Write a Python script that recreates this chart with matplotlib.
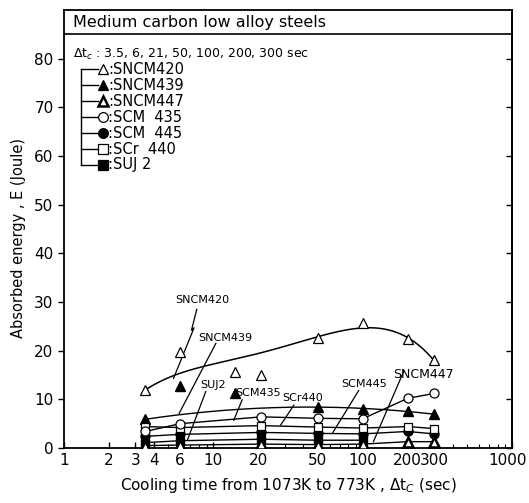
import numpy as np
import matplotlib.pyplot as plt
from matplotlib.ticker import NullFormatter, FixedLocator
from matplotlib.transforms import ScaledTranslation

# Cooling times (sec) used for most steels
cols = [3.5, 6, 21, 50, 100, 200, 300]

# Absorbed energy (Joule)
sncm420_x = [3.5, 6, 14, 21, 50, 100, 200, 300]
sncm420_y = [11.9, 19.8, 15.7, 15.1, 22.7, 25.6, 22.4, 18.1]
# where the drawn SNCM420 curve runs
sncm420_curve_x = [3.5, 8.6, 31, 50, 100, 200, 300]
sncm420_curve_y = [11.9, 16.8, 21.0, 22.7, 25.0, 22.4, 18.1]

sncm439_x = [3.5, 6, 14, 50, 100, 200, 300]
sncm439_y = [5.9, 12.8, 11.4, 8.4, 8.1, 7.6, 6.9]
sncm439_fit = [0, 3, 4, 5, 6]

sncm447_y = [0.5, 0.6, 0.8, 0.7, 0.8, 1.3, 1.3]
scm435_y = [3.4, 5.0, 6.4, 6.1, 6.0, 10.2, 11.2]
scm445_y = [2.4, 2.8, 3.2, 3.0, 2.9, 3.4, 2.9]
scr440_y = [4.4, 4.2, 4.6, 4.3, 4.1, 4.4, 4.0]
suj2_x = [3.5, 6, 21, 50, 100]
suj2_y = [1.1, 1.5, 1.8, 1.6, 1.6]

xtick_vals = [1, 2, 3, 4, 6, 10, 20, 50, 100, 200, 300, 1000]

fig = plt.figure(figsize=(5.29, 5.03), dpi=100)
ax = fig.add_axes([64/529, 1 - 448/503, 448/529, 438/503])
ax.set_xscale("log")
ax.set_xlim(1, 1000)
ax.set_ylim(0, 90)

K = "black"


def smooth(xs, ys, deg):
    """smooth curve through the points, in log x"""
    u = np.log10(np.asarray(xs, float))
    c = np.polyfit(u, np.asarray(ys, float), deg)
    uu = np.linspace(u.min(), u.max(), 200)
    return 10**uu, np.polyval(c, uu)


# curves
cx, cy = smooth(sncm420_curve_x, sncm420_curve_y, 4)
ax.plot(cx, cy, color=K, lw=1.1, zorder=2)
cx, cy = smooth(np.array(sncm439_x)[sncm439_fit], np.array(sncm439_y)[sncm439_fit], 2)
ax.plot(cx, cy, color=K, lw=1.0, zorder=2)
ax.plot(cols, scm435_y, color=K, lw=1.0, zorder=2)
ax.plot(cols, scr440_y, color=K, lw=1.0, zorder=2)
ax.plot(cols, scm445_y, color=K, lw=1.0, zorder=2)
ax.plot(suj2_x, suj2_y, color=K, lw=1.0, zorder=2)
ax.plot(cols, sncm447_y, color=K, lw=1.0, zorder=2)

# markers
ms = 7
ax.plot(sncm420_x, sncm420_y, "^", ms=ms, mfc="white", mec=K, mew=0.9, ls="none", zorder=4)
ax.plot(sncm439_x, sncm439_y, "^", ms=ms, mfc=K, mec=K, ls="none", zorder=4)
ax.plot(cols, scm445_y, "o", ms=6.5, mfc=K, mec=K, ls="none", zorder=3)
ax.plot(suj2_x, suj2_y, "s", ms=6, mfc=K, mec=K, ls="none", zorder=3)
ax.plot(cols, scr440_y, "s", ms=6, mfc="white", mec=K, mew=0.9, ls="none", zorder=4)
ax.plot(cols, scm435_y, "o", ms=6.5, mfc="white", mec=K, mew=0.9, ls="none", zorder=5)
ax.plot(cols, sncm447_y, "^", ms=6.5, mfc="white", mec=K, mew=1.8, ls="none", zorder=4)

# leader labels
lab = dict(fontsize=8, color=K, ha="center", va="center")
ax.text(8.45, 30.4, "SNCM420", **lab)
ax.plot([7.75, 7.14, 7.43, 5.41], [28.5, 24.2, 24.7, 14.3], color=K, lw=0.9)
ax.text(12.1, 22.7, "SNCM439", **lab)
ax.plot([10.4, 5.9], [21.5, 7.1], color=K, lw=0.9)
ax.text(9.9, 12.9, "SUJ2", **lab)
ax.plot([8.9, 6.7], [11.6, 1.6], color=K, lw=0.9)
ax.text(19.9, 11.2, "SCM435", **lab)
ax.plot([15.6, 13.7], [9.9, 5.7], color=K, lw=0.9)
ax.text(39.4, 10.2, "SCr440", **lab)
ax.plot([34.6, 28.2], [8.8, 4.7], color=K, lw=0.9)
ax.text(101.7, 13.1, "SCM445", **lab)
ax.plot([94, 62.6], [11.8, 3.0], color=K, lw=0.9)
ax.text(256, 15.2, "SNCM447", fontsize=9, color=K, ha="center", va="center")
ax.plot([188, 118], [15.7, 1.3], color=K, lw=0.9)

# header band
ax.axhline(85, color=K, lw=1.2)
ax.text(0.02, 87.5, "Medium carbon low alloy steels", transform=ax.get_yaxis_transform(),
        fontsize=11.5, va="center", ha="left")
ax.text(0.02, 0.898, r"$\Delta$t$_c$ : 3.5, 6, 21, 50, 100, 200, 300 sec", transform=ax.transAxes,
        fontsize=9, va="center", ha="left")

# hand drawn legend with bracket
leg_names = [":SNCM420", ":SNCM439", ":SNCM447", ":SCM  435", ":SCM  445", ":SCr  440", ":SUJ 2"]
leg_style = [
    dict(marker="^", mfc="white", mew=0.9),
    dict(marker="^", mfc=K, mew=0.9),
    dict(marker="^", mfc="white", mew=1.8),
    dict(marker="o", mfc="white", mew=0.9),
    dict(marker="o", mfc=K, mew=0.9),
    dict(marker="s", mfc="white", mew=0.9),
    dict(marker="s", mfc=K, mew=0.9),
]
y0, dy = 0.8646, 0.0364
ys = [y0 - i*dy for i in range(len(leg_names))]
ax.plot([0.0379, 0.0379], [ys[0], ys[-1]], color=K, lw=1.0, transform=ax.transAxes)
for yy, name, st in zip(ys, leg_names, leg_style):
    ax.plot([0.0379, 0.075], [yy, yy], color=K, lw=1.0, transform=ax.transAxes)
    ax.plot([0.088], [yy], ls="none", ms=7, mec=K, transform=ax.transAxes, **st)
    ax.text(0.098, yy, name, transform=ax.transAxes, fontsize=10.5, va="center", ha="left")

# axes, ticks
ax.xaxis.set_major_locator(FixedLocator(xtick_vals))
ax.set_xticklabels([str(v) for v in xtick_vals])
ax.xaxis.set_minor_locator(FixedLocator([v for d in (1, 10, 100) for v in np.arange(2, 10)*d
                                         if v not in xtick_vals]))
ax.xaxis.set_minor_formatter(NullFormatter())
ax.set_yticks(range(0, 90, 10))
ax.set_yticklabels(["0", "10", "20", "30", "40", "50", "60", "70", "80"])
ax.tick_params(axis="x", which="major", direction="in", length=4, width=1, labelsize=11)
ax.tick_params(axis="x", which="minor", direction="in", length=3, width=0.8)
ax.tick_params(axis="y", which="major", direction="out", length=4, width=1, labelsize=11)
# right side ticks point inward
sec = ax.secondary_yaxis("right")
sec.set_yticks(range(0, 90, 10))
sec.tick_params(direction="in", length=4, width=1, labelright=False)
for s in list(ax.spines.values()) + [sec.spines["right"]]:
    s.set_linewidth(1.3)

# keep "1000" inside the figure
lbl = ax.get_xticklabels()[-1]
lbl.set_transform(lbl.get_transform() + ScaledTranslation(-4/100, 0, fig.dpi_scale_trans))

ax.set_xlabel(r"Cooling time from 1073K to 773K , $\Delta$t$_C$ (sec)", fontsize=11, labelpad=6)
ax.set_ylabel("Absorbed energy , E (Joule)", fontsize=10.5)
ax.yaxis.set_label_coords(-0.085, 0.48)

fig.savefig("out.png", dpi=100)
